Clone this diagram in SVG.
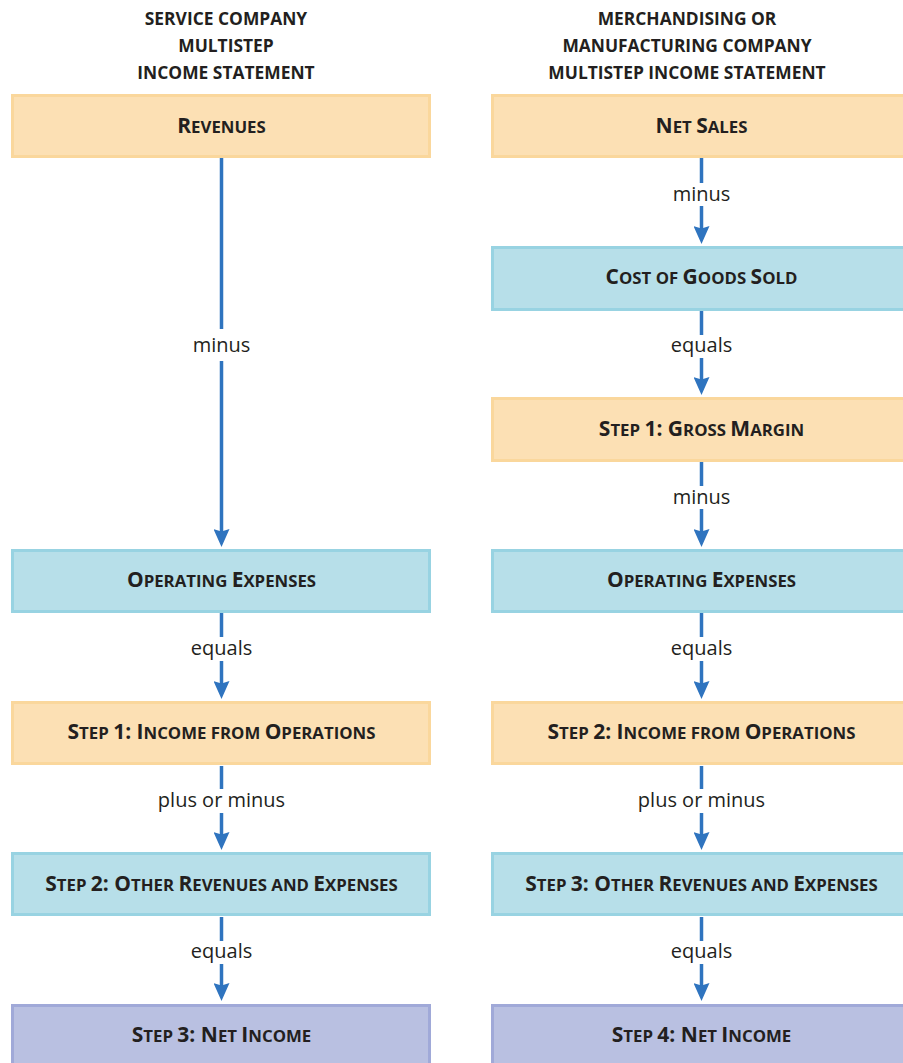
<svg xmlns="http://www.w3.org/2000/svg" width="903" height="1063" viewBox="0 0 903 1063">
<defs>
<marker id="ah" markerUnits="userSpaceOnUse" viewBox="0 0 18 16" markerWidth="18" markerHeight="16" refX="8" refY="8" orient="auto">
<path d="M0,0 L18,8 L0,16 L2.5,8 Z" fill="#2f74bf"/>
</marker>
<style>
.hd{font-family:"Open Sans","Liberation Sans",sans-serif;font-weight:700;font-size:17.4px;fill:#231f20;text-anchor:middle}
.lb{font-family:"Open Sans","Liberation Sans",sans-serif;font-weight:700;font-size:16.8px;fill:#231f20;text-anchor:middle}
.lb .c{font-size:21px}
.cl{font-family:"Open Sans","Liberation Sans",sans-serif;font-size:20px;fill:#231f20;text-anchor:middle}
.o{fill:#fce0b4;stroke:#fad79c;stroke-width:3}
.b{fill:#b7dfe9;stroke:#98d3e2;stroke-width:3}
.p{fill:#b9c0e1;stroke:#a0a9d8;stroke-width:3}
.ln{stroke:#2f74bf;stroke-width:3.5;fill:none}
.ar{marker-end:url(#ah)}
</style>
</defs>
<rect width="903" height="1063" fill="#ffffff"/>

<g id="headers">
<text class="hd" x="226" y="25">SERVICE COMPANY</text>
<text class="hd" x="226" y="52">MULTISTEP</text>
<text class="hd" x="226" y="79">INCOME STATEMENT</text>
<text class="hd" x="687" y="25">MERCHANDISING OR</text>
<text class="hd" x="687" y="52">MANUFACTURING COMPANY</text>
<text class="hd" x="687" y="79">MULTISTEP INCOME STATEMENT</text>
</g>

<g id="connectors">
<line class="ln" x1="221.5" y1="158" x2="221.5" y2="329"/>
<line class="ln ar" x1="221.5" y1="361" x2="221.5" y2="537"/>
<text class="cl" x="221.5" y="352">minus</text>
<line class="ln" x1="221.5" y1="613" x2="221.5" y2="637"/>
<line class="ln ar" x1="221.5" y1="661" x2="221.5" y2="689"/>
<text class="cl" x="221.5" y="655">equals</text>
<line class="ln" x1="221.5" y1="766" x2="221.5" y2="789"/>
<line class="ln ar" x1="221.5" y1="813" x2="221.5" y2="840"/>
<text class="cl" x="221.5" y="807">plus or minus</text>
<line class="ln" x1="221.5" y1="917" x2="221.5" y2="941"/>
<line class="ln ar" x1="221.5" y1="964" x2="221.5" y2="991"/>
<text class="cl" x="221.5" y="958">equals</text>

<line class="ln" x1="701.5" y1="158" x2="701.5" y2="183"/>
<line class="ln ar" x1="701.5" y1="206" x2="701.5" y2="234"/>
<text class="cl" x="701.5" y="201">minus</text>
<line class="ln" x1="701.5" y1="311" x2="701.5" y2="335"/>
<line class="ln ar" x1="701.5" y1="358" x2="701.5" y2="385"/>
<text class="cl" x="701.5" y="352">equals</text>
<line class="ln" x1="701.5" y1="462" x2="701.5" y2="486"/>
<line class="ln ar" x1="701.5" y1="509" x2="701.5" y2="537"/>
<text class="cl" x="701.5" y="504">minus</text>
<line class="ln" x1="701.5" y1="613" x2="701.5" y2="637"/>
<line class="ln ar" x1="701.5" y1="661" x2="701.5" y2="689"/>
<text class="cl" x="701.5" y="655">equals</text>
<line class="ln" x1="701.5" y1="766" x2="701.5" y2="789"/>
<line class="ln ar" x1="701.5" y1="813" x2="701.5" y2="840"/>
<text class="cl" x="701.5" y="807">plus or minus</text>
<line class="ln" x1="701.5" y1="917" x2="701.5" y2="941"/>
<line class="ln ar" x1="701.5" y1="964" x2="701.5" y2="991"/>
<text class="cl" x="701.5" y="958">equals</text>
</g>

<g id="s-revenues"><rect class="o" x="12.5" y="95.5" width="417" height="61"/>
<text class="lb" x="221.5" y="133"><tspan class="c">R</tspan>EVENUES</text></g>
<g id="s-opex"><rect class="b" x="12.5" y="550.5" width="417" height="61"/>
<text class="lb" x="221.5" y="587"><tspan class="c">O</tspan>PERATING <tspan class="c">E</tspan>XPENSES</text></g>
<g id="s-step1"><rect class="o" x="12.5" y="702.5" width="417" height="61"/>
<text class="lb" x="221.5" y="739"><tspan class="c">S</tspan>TEP <tspan class="c">1: I</tspan>NCOME FROM <tspan class="c">O</tspan>PERATIONS</text></g>
<g id="s-step2"><rect class="b" x="12.5" y="853.5" width="417" height="61"/>
<text class="lb" x="221.5" y="891"><tspan class="c">S</tspan>TEP <tspan class="c">2: O</tspan>THER <tspan class="c">R</tspan>EVENUES AND <tspan class="c">E</tspan>XPENSES</text></g>
<g id="s-step3"><rect class="p" x="12.5" y="1005.5" width="417" height="64"/>
<text class="lb" x="221.5" y="1042"><tspan class="c">S</tspan>TEP <tspan class="c">3: N</tspan>ET <tspan class="c">I</tspan>NCOME</text></g>

<g id="m-netsales"><rect class="o" x="492.5" y="95.5" width="417" height="61"/>
<text class="lb" x="701.5" y="133"><tspan class="c">N</tspan>ET <tspan class="c">S</tspan>ALES</text></g>
<g id="m-cogs"><rect class="b" x="492.5" y="247.5" width="417" height="62"/>
<text class="lb" x="701.5" y="284"><tspan class="c">C</tspan>OST OF <tspan class="c">G</tspan>OODS <tspan class="c">S</tspan>OLD</text></g>
<g id="m-step1"><rect class="o" x="492.5" y="398.5" width="417" height="62"/>
<text class="lb" x="701.5" y="436"><tspan class="c">S</tspan>TEP <tspan class="c">1: G</tspan>ROSS <tspan class="c">M</tspan>ARGIN</text></g>
<g id="m-opex"><rect class="b" x="492.5" y="550.5" width="417" height="61"/>
<text class="lb" x="701.5" y="587"><tspan class="c">O</tspan>PERATING <tspan class="c">E</tspan>XPENSES</text></g>
<g id="m-step2"><rect class="o" x="492.5" y="702.5" width="417" height="61"/>
<text class="lb" x="701.5" y="739"><tspan class="c">S</tspan>TEP <tspan class="c">2: I</tspan>NCOME FROM <tspan class="c">O</tspan>PERATIONS</text></g>
<g id="m-step3"><rect class="b" x="492.5" y="853.5" width="417" height="61"/>
<text class="lb" x="701.5" y="891"><tspan class="c">S</tspan>TEP <tspan class="c">3: O</tspan>THER <tspan class="c">R</tspan>EVENUES AND <tspan class="c">E</tspan>XPENSES</text></g>
<g id="m-step4"><rect class="p" x="492.5" y="1005.5" width="417" height="64"/>
<text class="lb" x="701.5" y="1042"><tspan class="c">S</tspan>TEP <tspan class="c">4: N</tspan>ET <tspan class="c">I</tspan>NCOME</text></g>
</svg>
